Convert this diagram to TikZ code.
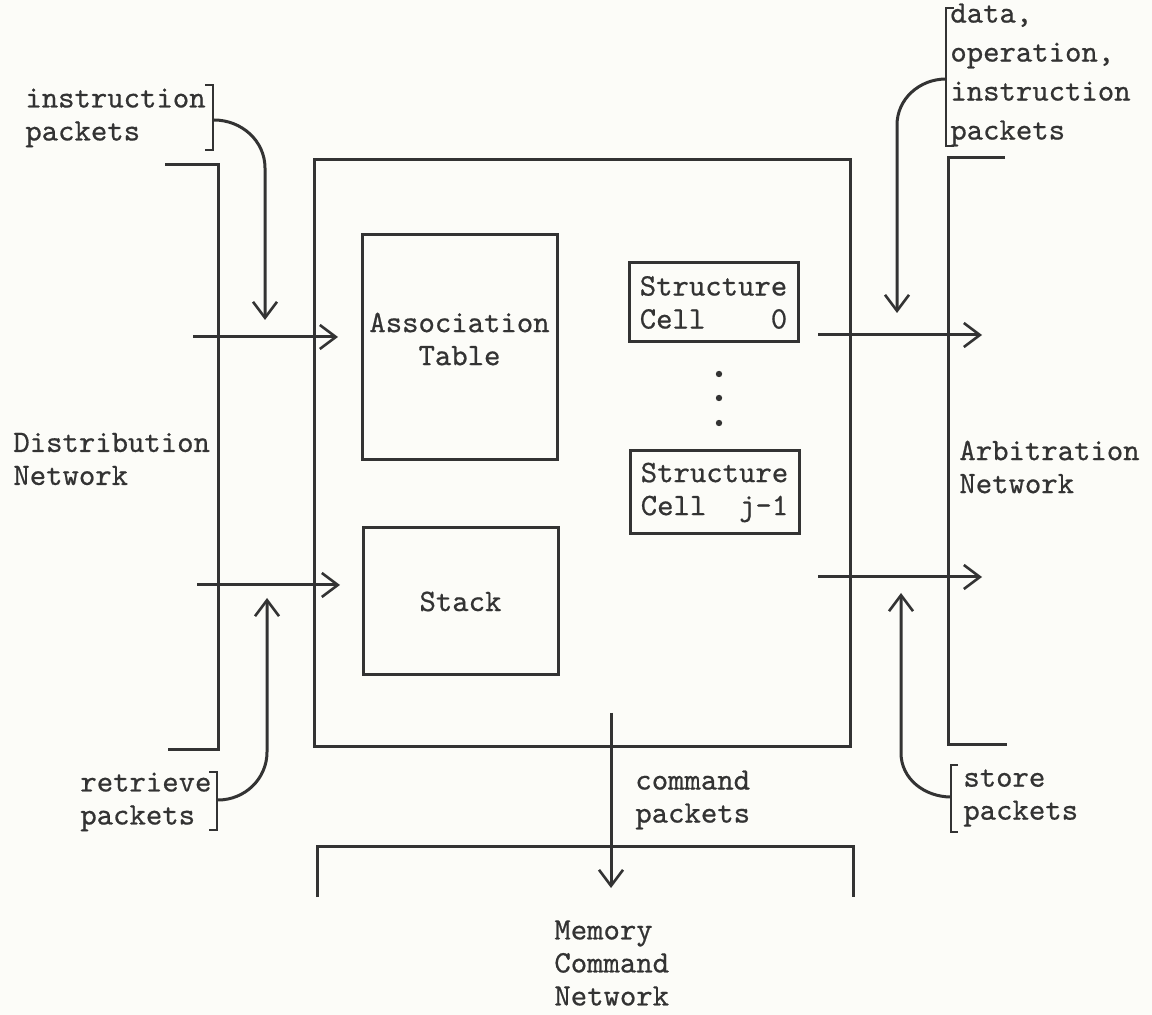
\documentclass[tikz,border=0pt]{standalone}
\usepackage{fontspec}
\newfontfamily\tw{lmmono10-regular.otf}[FakeBold=0.6]
\usetikzlibrary{arrows.meta}
\definecolor{ink}{HTML}{333333}
\definecolor{paper}{HTML}{FCFCF8}
\tikzset{
  ln/.style={draw=ink, line width=1.5pt},
  brk/.style={draw=ink, line width=1.2pt},
  arr/.style={ln, -{Straight Barb[length=8pt,width=12pt,line width=1.3pt]}},
  lbl/.style={font=\tw\fontsize{15.6}{16.5}\selectfont, text=ink, inner sep=0pt, align=left},
  boxnode/.style={ln, rectangle, inner sep=0pt, font=\tw\fontsize{15.6}{16.5}\selectfont, text=ink, align=center},
  dotnode/.style={circle, fill=ink, inner sep=0pt, minimum size=3.2pt}
}
\begin{document}
\begin{tikzpicture}[x=0.5pt, y=-0.5pt]
\fill[paper] (0,0) rectangle (1152,1015);
\useasboundingbox (0,0) rectangle (1152,1015);

% main processing box
\node[boxnode, minimum width=268pt, minimum height=293.5pt] (main) at (582,453.5) {};
% inner units
\node[boxnode, minimum width=97.5pt, minimum height=112.5pt] (assoc) at (459.5,347.5) {};
\node[lbl, align=center] (assocT) at (459.5,339) {Association\\Table};
\node[boxnode, minimum width=97.5pt, minimum height=73.5pt] (stack) at (460.5,601.5) {Stack};
\node[boxnode, minimum width=84.5pt, minimum height=39.5pt, align=left] (cell0) at (713.5,302.5) {Structure\\Cell~~~~0};
\node[boxnode, minimum width=84.5pt, minimum height=41.5pt, align=left] (cellj) at (714.5,492.5) {Structure\\Cell~~j-1};
\node[dotnode] (d1) at (719,374) {};
\node[dotnode] (d2) at (719,398) {};
\node[dotnode] (d3) at (719,423) {};

% network brackets
\draw[ln] (165,165) -- (218,165) -- (218,750) -- (168,750);
\draw[ln] (1005,158) -- (948,158) -- (948,745) -- (1007,745);
\draw[ln] (317,897) -- (317,846) -- (853,846) -- (853,897);

% labels
\node[lbl, anchor=west] (instr) at (25,118) {instruction\\packets};
\node[lbl, anchor=west] (dist) at (13,459) {Distribution\\Network};
\node[lbl, anchor=west] (retr) at (80,802) {retrieve\\packets};
\node[lbl, anchor=west, font=\tw\fontsize{15.6}{19.5}\selectfont] (data) at (950,75) {data,\\operation,\\instruction\\packets};
\node[lbl, anchor=west] (arb) at (959,467) {Arbitration\\Network};
\node[lbl, anchor=west] (store) at (963,798) {store\\packets};
\node[lbl, anchor=west] (cmd) at (635,800) {command\\packets};
\node[lbl, anchor=west] (mem) at (554,963) {Memory\\Command\\Network};

% label brackets
\draw[brk] (205,85) -- (213,85) -- (213,150) -- (205,150);
\draw[brk] (209,772) -- (217,772) -- (217,830) -- (209,830);
\draw[brk] (954,8) -- (946,8) -- (946,146) -- (954,146);
\draw[brk] (958,765) -- (951,765) -- (951,832) -- (958,832);

% connector end points
\coordinate (inAs) at (193,337);  \coordinate (inAe) at (338,337);
\coordinate (inSs) at (197,585);  \coordinate (inSe) at (340,585);
\coordinate (outCs) at (818,335); \coordinate (outCe) at (982,335);
\coordinate (outSs) at (818,577); \coordinate (outSe) at (982,577);
\coordinate (cmdS) at (611,713);  \coordinate (cmdE) at (611,888);
\coordinate (ib) at (214,120);    \coordinate (it) at (265,320);
\coordinate (rb) at (218,800);    \coordinate (rt) at (267,598);
\coordinate (db) at (946,79);     \coordinate (dt) at (897,313);
\coordinate (sb) at (951,797);    \coordinate (st) at (901,593);

% arrows
\draw[arr] (inAs) -- (inAe);
\draw[arr] (inSs) -- (inSe);
\draw[arr] (outCs) -- (outCe);
\draw[arr] (outSs) -- (outSe);
\draw[arr] (cmdS) -- (cmdE);
\draw[arr] (ib) to[out=0,in=90] (265,168) -- (it);
\draw[arr] (rb) to[out=0,in=-90] (267,752) -- (rt);
\draw[arr] (db) to[out=180,in=90] (897,125) -- (dt);
\draw[arr] (sb) to[out=180,in=-90] (901,753) -- (st);
\end{tikzpicture}
\end{document}
